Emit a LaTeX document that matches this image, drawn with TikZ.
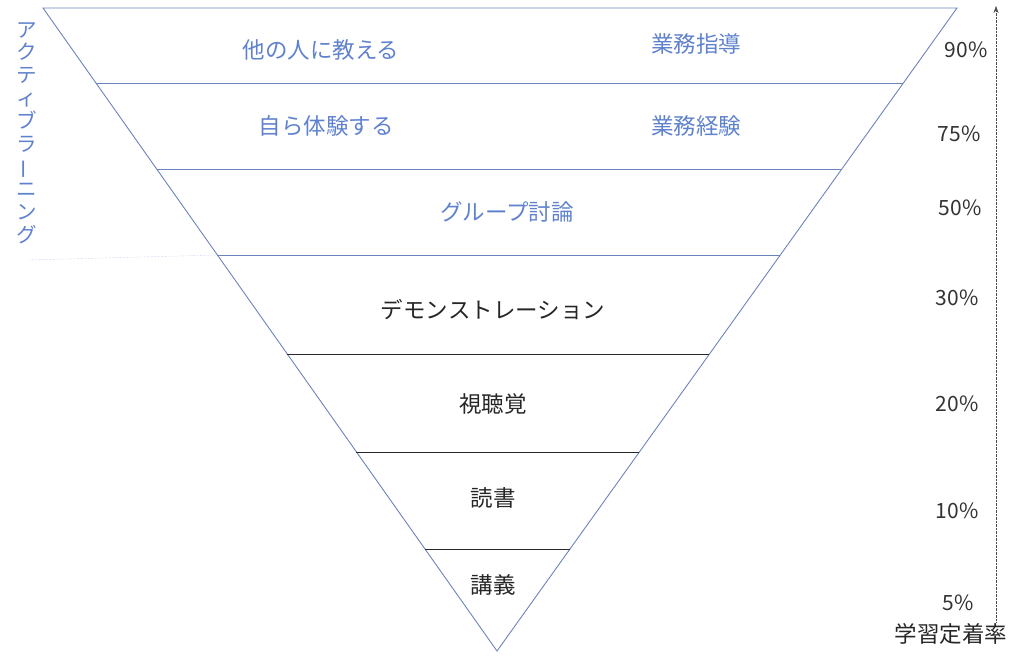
\documentclass[tikz,border=0pt]{standalone}
\usepackage{fontspec}
\setmainfont{Noto Sans CJK JP}
\usetikzlibrary{calc,arrows.meta}
\definecolor{edgeblue}{RGB}{108,132,188}
\definecolor{textblue}{RGB}{96,130,206}
\definecolor{bandgray}{RGB}{40,40,40}
\tikzset{
  active/.style={text=textblue, font=\fontsize{22.5}{24}\selectfont},
  passive/.style={text=black!85, font=\fontsize{22.5}{24}\selectfont},
  rate/.style={text=black!80, font=\fontsize{21}{22}\selectfont},
}
\begin{document}
\begin{tikzpicture}[x=1pt,y=-1pt]
  \useasboundingbox (0,0) rectangle (1024,666);
  % corners of the triangle
  \coordinate (tl) at (43,8);
  \coordinate (tr) at (957,8);
  \coordinate (apex) at (497,651);
  \draw[edgeblue, line width=0.9pt] (tl) -- (tr) -- (apex) -- cycle;
  % bands
  \foreach \y/\c in {83/edgeblue,169/edgeblue,255/edgeblue,354/bandgray,452/bandgray,549/bandgray}{
    \pgfmathsetmacro\t{(\y-8)/643}
    \draw[\c, line width=0.9pt] ($(tl)!\t!(apex)$) coordinate (l\y) -- ($(tr)!\t!(apex)$) coordinate (r\y);
  }
  % active learning mark
  \coordinate (mark) at (28,260);
  \draw[textblue!60, densely dotted] (mark) -- (l255);
  \node[active, align=center, font=\fontsize{20.5}{22.8}\selectfont] (al) at (27,133)
    {ア\\ク\\テ\\ィ\\ブ\\ラ\\\rotatebox[origin=c]{90}{ー}\\ニ\\ン\\グ};
  % band labels
  \node[active] (teach) at (321,50) {他の人に教える};
  \node[active] (guide) at (696,44) {業務指導};
  \node[active] (self) at (326,126) {自ら体験する};
  \node[active] (work) at (696,126) {業務経験};
  \node[active] (group) at (507,212) {グループ討論};
  \node[passive] (demo) at (493,310) {デモンストレーション};
  \node[passive] (av) at (493,404) {視聴覚};
  \node[passive] (read) at (493,498) {読書};
  \node[passive] (lect) at (493,585) {講義};
  % rates
  \node[rate] (p90) at (966,50) {90\%};
  \node[rate] (p75) at (959,134) {75\%};
  \node[rate] (p50) at (960,208) {50\%};
  \node[rate] (p30) at (957,298) {30\%};
  \node[rate] (p20) at (957,404) {20\%};
  \node[rate] (p10) at (957,511) {10\%};
  \node[rate] (p5) at (958,603) {5\%};
  \node[passive] (axis) at (951,634) {学習定着率};
  % axis arrow
  \coordinate (ybot) at (996,622);
  \coordinate (ytop) at (996,6);
  \draw[black!70, densely dotted, -{Stealth[length=7pt,width=5pt]}] (ybot) -- (ytop);
\end{tikzpicture}
\end{document}
